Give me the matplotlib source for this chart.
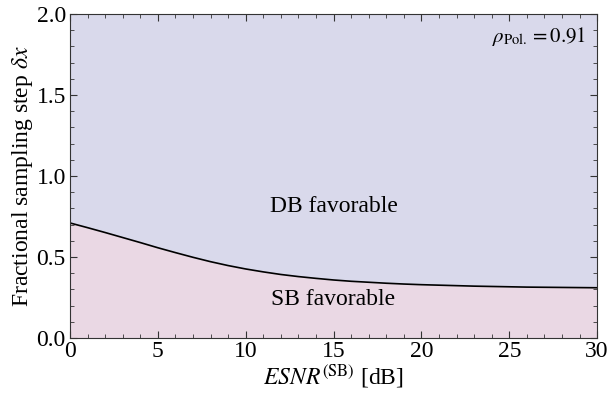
import numpy as np
import matplotlib.pyplot as plt
from matplotlib.ticker import MultipleLocator

plt.rcParams['font.family'] = ['Liberation Serif', 'DejaVu Serif']
plt.rcParams['mathtext.fontset'] = 'stix'

esnr = list(range(0, 31))
dx_boundary = [0.710, 0.681, 0.651, 0.620, 0.589, 0.557, 0.527, 0.498, 0.471, 0.447,
               0.426, 0.408, 0.392, 0.379, 0.368, 0.358, 0.350, 0.344, 0.338, 0.333,
               0.329, 0.326, 0.323, 0.320, 0.318, 0.316, 0.314, 0.313, 0.312, 0.311,
               0.310]

fig = plt.figure(figsize=(6.08, 3.93), dpi=100)
ax = fig.add_axes([0.1151, 0.14, 0.867, 0.8244])

ax.fill_between(esnr, dx_boundary, 2.0, color='#d9d9eb', lw=0)
ax.fill_between(esnr, 0, dx_boundary, color='#ead8e4', lw=0)
ax.plot(esnr, dx_boundary, color='black', lw=1.2)

ax.set_xlim(0, 30)
ax.set_ylim(0, 2.0)
ax.xaxis.set_major_locator(MultipleLocator(5))
ax.xaxis.set_minor_locator(MultipleLocator(1))
ax.yaxis.set_major_locator(MultipleLocator(0.5))
ax.yaxis.set_minor_locator(MultipleLocator(0.1))
ax.yaxis.set_major_formatter(plt.FormatStrFormatter('%.1f'))
ax.tick_params(which='both', direction='in', top=True, right=True, labelsize=17,
               colors='#333333', labelcolor='black')
ax.tick_params(which='major', length=5)
ax.tick_params(which='minor', length=3)
ax.tick_params(axis='x', pad=2)
ax.tick_params(axis='y', pad=3)
for s in ax.spines.values():
    s.set_color('#333333')

ax.set_xlabel(r'$\mathit{ESNR}^{\rm (SB)}$ [dB]', fontsize=17, labelpad=0)
ax.set_ylabel(r'Fractional sampling step $\delta x$', fontsize=17, labelpad=1)

ax.text(15, 0.81, 'DB favorable', fontsize=17, ha='center', va='center')
ax.text(15, 0.24, 'SB favorable', fontsize=17, ha='center', va='center')
ax.text(29.4, 1.86, r'$\rho_{\rm Pol.} = 0.91$', fontsize=15, ha='right', va='center')

fig.savefig('out.png', dpi=100)
